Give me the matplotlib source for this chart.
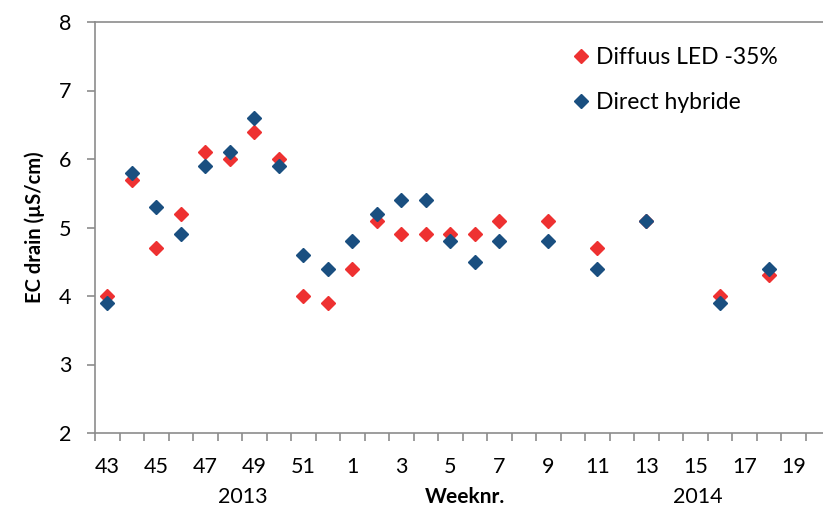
import numpy as np
import matplotlib
matplotlib.use("Agg")
import matplotlib.pyplot as plt

plt.rcParams['font.family'] = ['Lato', 'DejaVu Sans']

# week numbers on the category axis (autumn 2013 -> spring 2014)
weeks = [43, 44, 45, 46, 47, 48, 49, 50, 51, 52,
         1, 2, 3, 4, 5, 6, 7, 8, 9, 10,
         11, 12, 13, 14, 15, 16, 17, 18, 19, 20]

diffuus_led = [4.0, 5.7, 4.7, 5.2, 6.1, 6.0, 6.4, 6.0, 4.0, 3.9,
               4.4, 5.1, 4.9, 4.9, 4.9, 4.9, 5.1, None, 5.1, None,
               4.7, None, 5.1, None, None, 4.0, None, 4.3, None, None]
direct_hybride = [3.9, 5.8, 5.3, 4.9, 5.9, 6.1, 6.6, 5.9, 4.6, 4.4,
                  4.8, 5.2, 5.4, 5.4, 4.8, 4.5, 4.8, None, 4.8, None,
                  4.4, None, 5.1, None, None, 3.9, None, 4.4, None, None]

red = '#EE3131'
blue = '#1A4F80'
grey = '#8C8C8C'


def to_arr(vals):
    return np.array([np.nan if v is None else v for v in vals], dtype=float)


x = np.arange(len(weeks))

fig = plt.figure(figsize=(8.23, 5.08), dpi=100)
ax = fig.add_axes([95 / 823, 75 / 508, 735 / 823, 411 / 508])

ax.plot(x, to_arr(diffuus_led), linestyle='none', marker='D', ms=7.2,
        color=red, mec=red, label='Diffuus LED -35%')
ax.plot(x, to_arr(direct_hybride), linestyle='none', marker='D', ms=7.2,
        color=blue, mec=blue, label='Direct hybride')

ax.set_xlim(-0.5, len(weeks) - 0.5)
ax.set_ylim(2, 8)
ax.set_yticks(range(2, 9))

# labels every other week, tick marks between categories
ax.set_xticks(x[::2])
ax.set_xticklabels([str(w) for w in weeks[::2]])
ax.set_xticks(np.arange(-0.5, len(weeks), 1), minor=True)
ax.tick_params(axis='x', which='major', length=0, pad=17, labelsize=15.5)
ax.tick_params(axis='x', which='minor', length=6, width=1.2, color=grey,
               direction='out')
ax.tick_params(axis='y', length=6, width=1.2, color=grey, pad=11,
               labelsize=15.5)

ax.spines['right'].set_visible(False)
for side in ['left', 'bottom', 'top']:
    ax.spines[side].set_color(grey)
    ax.spines[side].set_linewidth(1.2)

ax.set_ylabel('EC drain (µS/cm)', fontsize=14.5, fontweight='bold', labelpad=10)

# second row of the category axis
trans = ax.get_xaxis_transform()
ax.text(5.55, -0.155, '2013', transform=trans, ha='center', va='center',
        fontsize=15.5)
ax.text(14.6, -0.155, 'Weeknr.', transform=trans, ha='center', va='center',
        fontsize=15, fontweight='bold')
ax.text(24.1, -0.155, '2014', transform=trans, ha='center', va='center',
        fontsize=15.5)

ax.legend(loc='upper left', bbox_to_anchor=(0.615, 0.99), frameon=False,
          fontsize=16.5, handletextpad=0.05, labelspacing=1.05,
          markerscale=1.0, handlelength=1.2)

fig.savefig('out.png', dpi=100)
